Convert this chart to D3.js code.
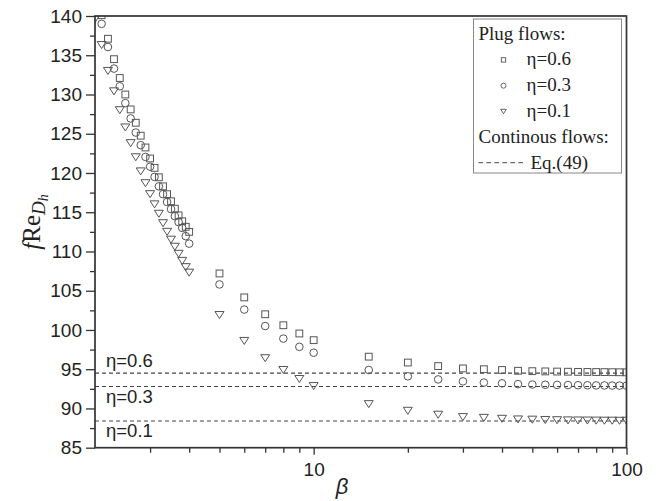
<!DOCTYPE html>
<html lang="en">
	<head>
		<meta charset="utf-8">
		<title>fRe vs beta, plug flows</title>
		<script type="text/javascript" src="https://cdn.jsdelivr.net/npm/d3@7/dist/d3.min.js"></script>
		<style type="text/css">
			body { margin: 0; background: #fff; }
			.tick text { font-family: "Liberation Sans", Arial, sans-serif; font-size: 19px; fill: #222; }
			.tick line { stroke: #333; stroke-width: 1.3; }
			.legend text { font-family: "Liberation Serif", "Times New Roman", serif; font-size: 19px; fill: #222; }
		</style>
	</head>
	<body>
		<script type="text/javascript">

			// dense part of the data, beta 2.0 .. 4.0
			var betaDense = [2.0, 2.1, 2.2, 2.3, 2.4, 2.5, 2.6, 2.7, 2.8, 2.9, 3.0,
			                 3.1, 3.2, 3.3, 3.4, 3.5, 3.6, 3.7, 3.8, 3.9, 4.0];
			// sparse part, beta 5 .. 100
			var betaSparse = [5, 6, 7, 8, 9, 10, 15, 20, 25, 30, 35, 40, 45, 50,
			                  55, 60, 65, 70, 75, 80, 85, 90, 95, 100];

			// eta = 0.6 (squares), first value is off the top of the chart
			var sqDense = [null, 140.1, 137.1, 134.5, 132.1, 130.0, 128.1, 126.4, 124.75, 123.25, 121.85,
			               120.65, 119.45, 118.3, 117.3, 116.4, 115.45, 114.6, 113.85, 113.15, 112.5];
			var sqSparse = [107.2, 104.15, 102.0, 100.6, 99.55, 98.7, 96.6, 95.85, 95.4, 95.1, 95.0, 94.9,
			                94.8, 94.75, 94.72, 94.7, 94.68, 94.66, 94.65, 94.64, 94.63, 94.62, 94.61, 94.6];

			// eta = 0.3 (circles)
			var ciDense = [null, 139.0, 136.05, 133.3, 131.05, 128.9, 126.95, 125.15, 123.55, 122.05, 120.8,
			               119.5, 118.3, 117.3, 116.3, 115.4, 114.5, 113.75, 113.0, 111.95, 111.0];
			var ciSparse = [105.8, 102.6, 100.5, 98.9, 97.85, 97.1, 94.9, 94.1, 93.7, 93.45, 93.3, 93.2,
			                93.1, 93.05, 93.02, 93.0, 92.98, 92.96, 92.95, 92.94, 92.93, 92.92, 92.91, 92.9];

			// eta = 0.1 (triangles)
			var trDense = [139.6, 136.3, 133.0, 130.4, 128.0, 125.8, 123.8, 122.0, 120.2, 118.7, 117.3,
			               116.0, 114.8, 113.6, 112.5, 111.5, 110.6, 109.7, 108.8, 108.0, 107.3];
			var trSparse = [101.9, 98.6, 96.4, 94.9, 93.75, 92.85, 90.55, 89.7, 89.2, 88.9, 88.8, 88.68,
			                88.6, 88.57, 88.53, 88.5, 88.48, 88.47, 88.46, 88.45, 88.44, 88.44, 88.43, 88.43];

			// Eq.(49) continuous flow limits
			var eqEta = ["η=0.6", "η=0.3", "η=0.1"];
			var eqValue = [94.5, 92.8, 88.4];

			var yMajor = [85, 90, 95, 100, 105, 110, 115, 120, 125, 130, 135, 140];
			var yMinor = [87.5, 92.5, 97.5, 102.5, 107.5, 112.5, 117.5, 122.5, 127.5, 132.5, 137.5];
			var xMajor = [10, 100];
			var xMinor = [3, 4, 5, 6, 7, 8, 9, 20, 30, 40, 50, 60, 70, 80, 90];

			var w = 660, h = 501;
			// plot box (note: "top" is a reserved window property, so use px* names)
			var pxL = 95, pxR = 626.5, pxT = 16, pxB = 447.7;

			var x = d3.scaleLog().domain([2, 100]).range([pxL, pxR]);
			var y = d3.scaleLinear().domain([85, 140]).range([pxB, pxT]);

			var svg = d3.select("body").append("svg")
				.attr("width", w)
				.attr("height", h);

			svg.append("clipPath").attr("id", "plot")
				.append("rect")
				.attr("x", pxL).attr("y", pxT)
				.attr("width", pxR - pxL).attr("height", pxB - pxT);

			// axes
			svg.append("g")
				.attr("transform", "translate(" + pxL + ",0)")
				.call(d3.axisLeft(y).tickValues(yMajor).tickSize(9).tickPadding(4).tickFormat(d3.format("d")));
			svg.append("g")
				.attr("transform", "translate(" + pxL + ",0)")
				.call(d3.axisLeft(y).tickValues(yMinor).tickSize(5).tickFormat(""));
			svg.append("g")
				.attr("transform", "translate(0," + pxB + ")")
				.call(d3.axisBottom(x).tickValues(xMajor).tickSize(7).tickPadding(8.3).tickFormat(d3.format("d")));
			svg.append("g")
				.attr("transform", "translate(0," + pxB + ")")
				.call(d3.axisBottom(x).tickValues(xMinor).tickSize(5).tickFormat(""));
			svg.selectAll(".domain").remove();

			// merge the dense and sparse parts into one list per series
			function series(ys, ysp) {
				var pts = [];
				betaDense.forEach(function(b, i) { if (ys[i] != null) pts.push([b, ys[i]]); });
				betaSparse.forEach(function(b, i) { pts.push([b, ysp[i]]); });
				return pts;
			}

			var marks = svg.append("g").attr("clip-path", "url(#plot)");

			// dashed lines of Eq.(49)
			marks.selectAll("line.eq")
				.data(eqValue)
				.enter().append("line")
				.attr("class", "eq")
				.attr("x1", pxL).attr("x2", pxR)
				.attr("y1", function(d) { return y(d); })
				.attr("y2", function(d) { return y(d); })
				.style("stroke", "#444")
				.style("stroke-width", 1.2)
				.style("stroke-dasharray", "4,3");

			var markStroke = "#555";

			marks.selectAll("rect.sq")
				.data(series(sqDense, sqSparse))
				.enter().append("rect")
				.attr("x", function(d) { return x(d[0]) - 3.4; })
				.attr("y", function(d) { return y(d[1]) - 3.4; })
				.attr("width", 6.8).attr("height", 6.8)
				.style("fill", "none").style("stroke", markStroke).style("stroke-width", 1);

			marks.selectAll("circle.ci")
				.data(series(ciDense, ciSparse))
				.enter().append("circle")
				.attr("cx", function(d) { return x(d[0]); })
				.attr("cy", function(d) { return y(d[1]); })
				.attr("r", 3.8)
				.style("fill", "none").style("stroke", markStroke).style("stroke-width", 1);

			// down-pointing triangle, centred on its box
			function tri(s) {
				var hw = s / 2, hh = s * 0.39;
				return "M" + (-hw) + "," + (-hh) + "L" + hw + "," + (-hh) + "L0," + hh + "Z";
			}

			marks.selectAll("path.tr")
				.data(series(trDense, trSparse))
				.enter().append("path")
				.attr("d", tri(9))
				.attr("transform", function(d) { return "translate(" + x(d[0]) + "," + y(d[1]) + ")"; })
				.style("fill", "none").style("stroke", markStroke).style("stroke-width", 1);

			// eta labels next to the dashed lines
			var labelY = [367, 403, 437];
			svg.selectAll("text.eqlab")
				.data(eqEta)
				.enter().append("text")
				.attr("x", 106)
				.attr("y", function(d, i) { return labelY[i]; })
				.style("font-family", "Liberation Sans, Arial, sans-serif")
				.style("font-size", "18.5px")
				.style("fill", "#222")
				.text(function(d) { return d; });

			// frame
			svg.append("rect")
				.attr("x", pxL).attr("y", pxT)
				.attr("width", pxR - pxL).attr("height", pxB - pxT)
				.style("fill", "none").style("stroke", "#333").style("stroke-width", 1.7);

			// axis titles
			svg.append("text")
				.attr("x", 342).attr("y", 494)
				.attr("text-anchor", "middle")
				.style("font-family", "Liberation Sans, Arial, sans-serif")
				.style("font-style", "italic")
				.style("font-size", "22px")
				.style("fill", "#222")
				.text("β");

			var yt = svg.append("text")
				.attr("transform", "translate(40,222) rotate(-90)")
				.attr("text-anchor", "middle")
				.style("font-family", "Liberation Serif, Times New Roman, serif")
				.style("font-size", "25px")
				.style("fill", "#222");
			yt.append("tspan").style("font-style", "italic").text("f");
			yt.append("tspan").text("Re");
			yt.append("tspan").attr("dy", 5).style("font-style", "italic").style("font-size", "19px").text("D");
			yt.append("tspan").attr("dy", 3).style("font-style", "italic").style("font-size", "14px").text("h");

			// legend
			var lg = svg.append("g").attr("class", "legend");
			lg.append("rect")
				.attr("x", 473.5).attr("y", 19)
				.attr("width", 148).attr("height", 154)
				.style("fill", "#fff").style("stroke", "#888").style("stroke-width", 1);

			var legendNames = ["Plug flows:", "η=0.6", "η=0.3", "η=0.1", "Continous flows:", "Eq.(49)"];
			var legendX = [478.5, 526.5, 526.5, 526.5, 478.5, 530.5];
			lg.selectAll("text")
				.data(legendNames)
				.enter().append("text")
				.attr("x", function(d, i) { return legendX[i]; })
				.attr("y", function(d, i) { return 39.5 + i * 25.8; })
				.text(function(d) { return d; });

			var symX = 503.5;
			lg.append("rect")
				.attr("x", symX - 2.2).attr("y", 39.5 + 25.8 - 7.6)
				.attr("width", 4.4).attr("height", 4.4)
				.style("fill", "none").style("stroke", markStroke).style("stroke-width", 0.9);
			lg.append("circle")
				.attr("cx", symX).attr("cy", 39.5 + 2 * 25.8 - 5.4)
				.attr("r", 2.5)
				.style("fill", "none").style("stroke", markStroke).style("stroke-width", 0.9);
			lg.append("path")
				.attr("d", tri(5.6))
				.attr("transform", "translate(" + symX + "," + (39.5 + 3 * 25.8 - 5.4) + ")")
				.style("fill", "none").style("stroke", markStroke).style("stroke-width", 0.9);
			lg.append("line")
				.attr("x1", 478.5).attr("x2", 525)
				.attr("y1", 39.5 + 5 * 25.8 - 5.8).attr("y2", 39.5 + 5 * 25.8 - 5.8)
				.style("stroke", "#444").style("stroke-width", 1)
				.style("stroke-dasharray", "4.5,3.5");

		</script>
	</body>
</html>
